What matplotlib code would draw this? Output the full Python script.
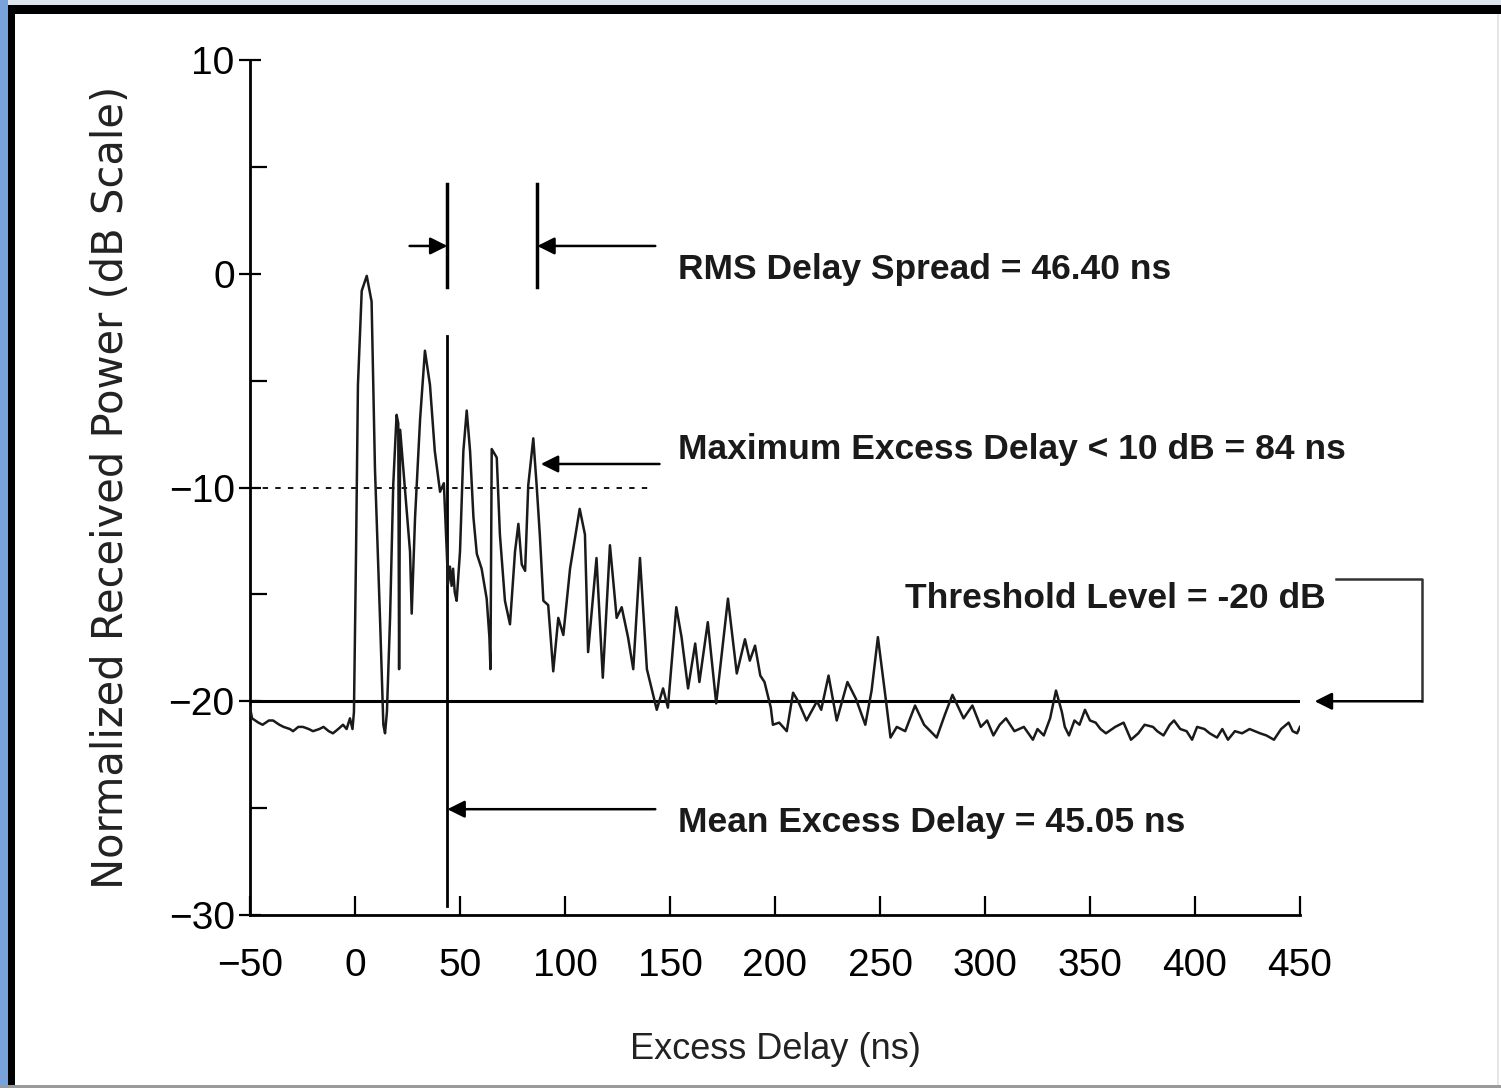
import matplotlib
matplotlib.use("Agg")
import matplotlib.pyplot as plt
from matplotlib.patches import Rectangle
from matplotlib.ticker import MultipleLocator

# power delay profile
delay_ns = [-50, -49, -46, -44, -41, -39, -36, -34, -31, -29.5, -27, -24.8, -22, -20,
            -17, -15, -12.5, -10.5, -8, -5.7, -4, -2.4, -1.2,
            -0.5, 0.5, 1.4, 3.2, 5.6, 7.9, 9.5, 11.9, 13.5, 14.3, 15.2, 16.7, 18.2,
            19.8, 20.6, 21.0, 21.5, 23, 25, 26.2, 27, 28.6, 31, 33.3, 35.7, 38, 40.5,
            42.3, 43.7, 44.3, 45.2, 46, 46.7, 47.5, 48.4, 50, 51.6, 53.2, 54.8, 56.4,
            58, 60.3, 62.7, 64.0, 64.5, 65.1, 67.5, 69, 71.4, 73.8, 76.2, 77.8, 79.4,
            81, 82.5, 84.9, 86.5, 88, 89.7, 92, 94.4, 96.8, 99.2, 102.4, 107, 109.5,
            111, 113, 115, 118, 121.4, 124.6, 127, 130, 132.5, 135.7, 139, 141.5,
            143.7, 146.7, 149, 153, 155.5, 158.6, 162, 164, 168, 172, 177.6, 181.8,
            185.7, 188, 190.5, 193, 195, 198, 199, 202, 205.6, 208.6, 211, 215, 220,
            222, 225.5, 229.4, 234.5, 238.6, 243, 246, 249, 253, 255, 258, 262, 266.7,
            271, 274, 277, 281, 284.5, 289.8, 294, 298, 301, 304, 307, 310, 314,
            318.5, 322.8, 325, 328, 331, 333.8, 336.6, 338, 340, 342.6, 345, 347.6,
            350, 352.7, 355, 357.6, 362, 366, 369.5, 373, 376, 380, 382, 385, 388,
            390, 393, 396, 398.6, 401, 404.5, 407, 410.5, 413, 415.7, 419, 422.4,
            426, 431, 434, 437.6, 441, 444.6, 446.5, 448.6, 450]
power_db = [-20.3, -20.8, -21.0, -21.1, -20.9, -20.9, -21.1, -21.2, -21.3, -21.4, -21.2,
            -21.2, -21.3, -21.4, -21.3, -21.2, -21.4, -21.5, -21.3, -21.1, -21.3,
            -20.8, -21.3,
            -20.5, -13.0, -5.2, -0.8, -0.1, -1.3, -9.1, -16.1, -21.1, -21.5, -20.5,
            -16.1, -9.9, -6.6, -7.0, -18.5, -7.3, -9.1, -11.5, -13.0, -15.9, -11.4,
            -6.8, -3.6, -5.2, -8.3, -10.2, -9.8, -13.0, -14.5, -13.7, -14.6, -13.8,
            -14.9, -15.3, -13.0, -8.3, -6.4, -8.3, -11.4, -13.1, -13.8, -15.2, -17.0,
            -18.5, -8.2, -8.6, -12.2, -15.3, -16.4, -13.0, -11.7, -13.6, -13.9, -9.9,
            -7.7, -9.9, -12.2, -15.3, -15.5, -18.6, -16.1, -16.9, -13.8, -11.0, -12.2,
            -17.7, -15.5, -13.3, -18.9, -12.7, -16.1, -15.6, -17.0, -18.5, -13.3,
            -18.5, -19.5, -20.4, -19.4, -20.3, -15.6, -17.0, -19.4, -17.3, -19.1,
            -16.3, -20.1, -15.2, -18.7, -17.1, -18.1, -17.4, -18.8, -19.1, -20.3,
            -21.1, -21.0, -21.4, -19.6, -20.0, -20.9, -20.0, -20.4, -18.8, -20.9,
            -19.1, -19.9, -21.1, -19.5, -17.0, -20.1, -21.7, -21.2, -21.4, -20.2,
            -21.1, -21.4, -21.7, -20.6, -19.7, -20.8, -20.2, -21.2, -20.9, -21.6,
            -21.1, -20.8, -21.4, -21.2, -21.8, -21.3, -21.6, -20.8, -19.5, -20.5,
            -21.2, -21.6, -20.9, -21.1, -20.4, -20.9, -21.0, -21.3, -21.5, -21.2,
            -21.0, -21.8, -21.5, -21.1, -21.2, -21.4, -21.6, -21.1, -20.9, -21.3,
            -21.4, -21.8, -21.2, -21.3, -21.5, -21.7, -21.3, -21.8, -21.4, -21.5,
            -21.3, -21.5, -21.6, -21.8, -21.3, -21.0, -21.4, -21.5, -21.2]

threshold_db = -20
level_10db = -10
mean_line_x = 44.0
rms_marks_x = [44.0, 86.8]
max_excess_peak_x = 88.5

label_rms = "RMS Delay Spread = 46.40 ns"
label_max = "Maximum Excess Delay < 10 dB = 84 ns"
label_thr = "Threshold Level = -20 dB"
label_mean = "Mean Excess Delay = 45.05 ns"

W, H = 1501, 1088
fig = plt.figure(figsize=(W / 100, H / 100), dpi=100)
fig.patch.set_facecolor("white")

# scanned frame around the figure
def px_rect(x0, y0, w, h, color):
    fig.add_artist(Rectangle((x0 / W, 1 - (y0 + h) / H), w / W, h / H,
                             transform=fig.transFigure, color=color, lw=0, zorder=-5))

px_rect(0, 0, W, 5, "#dde4ec")
px_rect(0, 0, 8, H, "#7aa2da")
px_rect(8, 5, W - 8, 9, "black")
px_rect(8, 5, 7, H - 8, "black")
px_rect(0, H - 3, W, 3, "#9a9a9a")
px_rect(W - 4, 14, 2, H - 17, "#e6e6e6")

ax = fig.add_axes([250 / W, 1 - 915 / H, 1050 / W, 855 / H])
ax.set_facecolor("none")

ax.plot(delay_ns, power_db, color="#1a1a1a", lw=1.8, zorder=3)
ax.plot([-50, 450], [threshold_db, threshold_db], color="black", lw=2.2, zorder=2)
ax.plot([-50, 142], [level_10db, level_10db], color="black", lw=1.3,
        linestyle=(0, (3, 4)), zorder=2)

# mean excess delay marker
ax.plot([mean_line_x, mean_line_x], [-2.9, -29.6], color="black", lw=2.0)

# rms delay spread markers
for xm in rms_marks_x:
    ax.plot([xm, xm], [4.2, -0.6], color="black", lw=2.5)

arrow = dict(arrowstyle="-|>", color="black", lw=1.8, mutation_scale=26,
             shrinkA=0, shrinkB=0)
ax.annotate("", xy=(rms_marks_x[0], 1.3), xytext=(26, 1.3), arrowprops=arrow)
ax.annotate("", xy=(rms_marks_x[1], 1.3), xytext=(143, 1.3), arrowprops=arrow)
ax.annotate("", xy=(max_excess_peak_x, -8.9), xytext=(145, -8.9), arrowprops=arrow)
ax.annotate("", xy=(mean_line_x, -25.05), xytext=(143, -25.05), arrowprops=arrow)

# threshold bracket to the right of the axes
ax.plot([467, 508, 508], [-14.3, -14.3, -20.0], color="#333333", lw=1.8, clip_on=False)
ax.annotate("", xy=(457, -20.0), xytext=(508, -20.0), arrowprops=arrow,
            annotation_clip=False)

tfont = dict(family="Liberation Sans", fontsize=25.5, weight="bold", color="#1a1a1a",
             va="center", ha="left")
ax.text(154, 0.2, label_rms, **tfont)
ax.text(154, -8.2, label_max, **tfont)
ax.text(262, -15.2, label_thr, **tfont)
ax.text(154, -25.65, label_mean, **tfont)

ax.set_xlim(-50, 450)
ax.set_ylim(-30, 10)
ax.spines["top"].set_visible(False)
ax.spines["right"].set_visible(False)
ax.spines["left"].set_linewidth(2)
ax.spines["bottom"].set_linewidth(2)

ax.xaxis.set_major_locator(MultipleLocator(50))
ax.yaxis.set_major_locator(MultipleLocator(10))
ax.yaxis.set_minor_locator(MultipleLocator(5))
ax.tick_params(axis="x", direction="in", length=14, width=1.6, pad=24)
ax.tick_params(axis="y", which="major", direction="inout", length=16, width=1.6, pad=3)
ax.tick_params(axis="y", which="minor", direction="in", length=12, width=1.6)

for lab in ax.get_xticklabels():
    lab.set_family("Liberation Sans")
    lab.set_fontsize(28)
for lab in ax.get_yticklabels():
    lab.set_family("Liberation Sans")
    lab.set_fontsize(28)

ax.set_xlabel("Excess Delay (ns)", family="Liberation Sans",
              fontsize=26, labelpad=34, color="#222222")
ax.set_ylabel("Normalized Received Power (dB Scale)", family="DejaVu Sans",
              fontsize=30, labelpad=26, color="#222222")

fig.savefig("out.png", dpi=100)
